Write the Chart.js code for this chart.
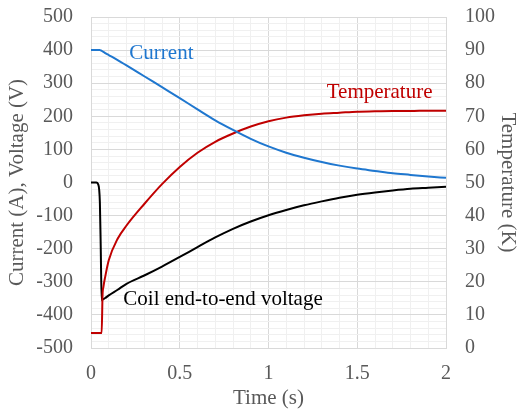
<!DOCTYPE html>
<html><head><meta charset="utf-8">
<script src="https://cdn.jsdelivr.net/npm/chart.js@4"></script>
<style>html,body{margin:0;padding:0;background:#fff}</style>
</head><body>
<canvas id="c" width="518" height="409"></canvas>
<script>
// ---- data ----
const time = [0, 0.03, 0.04, 0.05, 0.055, 0.06, 0.065, 0.07, 0.08, 0.1, 0.15, 0.2, 0.3, 0.4, 0.5, 0.6, 0.7, 0.8, 0.9, 1.0, 1.1, 1.2, 1.3, 1.4, 1.5, 1.6, 1.7, 1.8, 1.9, 2.0];
const currentA = [400, 400, 400, 400, 399, 398, 396, 395, 391, 385, 370, 354, 321, 288, 255, 221, 188, 159, 132, 109, 90, 75, 62, 51, 42, 35, 28, 23, 18, 14];
const voltageV = [0, 0, -5, -60, -200, -356, -354, -352, -349, -341, -324, -306, -281, -254, -225, -195, -166, -140, -118, -99, -83, -69, -57, -46, -37, -30, -24, -19, -16, -13];
const temperatureK = [4.5, 4.5, 4.5, 4.5, 4.5, 4.5, 16, 18.5, 21.5, 26.5, 33, 37, 43.5, 49.5, 54.7, 59, 62.3, 64.8, 66.9, 68.5, 69.6, 70.3, 70.8, 71.1, 71.4, 71.5, 71.6, 71.6, 71.7, 71.7];

const xTickLabels = [0, 0.5, 1, 1.5, 2];
const leftTickLabels = [-500, -400, -300, -200, -100, 0, 100, 200, 300, 400, 500];
const rightTickLabels = [0, 10, 20, 30, 40, 50, 60, 70, 80, 90, 100];
const seriesNames = ['Current', 'Temperature', 'Coil end-to-end voltage'];
const axisTitles = {x: 'Time (s)', y: 'Current (A), Voltage (V)', y1: 'Temperature (K)'};

// ---- styles ----
const FONT = 'Liberation Serif';
const TICK_COLOR = '#595959';
const MAJOR = '#d9d9d9';
const MINOR = '#f0f0f0';
const COLORS = ['#1f77cf', '#c00000', '#000000'];

const pts = (ys) => time.map((t, i) => ({x: t, y: ys[i]}));
const isIn = (v, list) => list.some(l => Math.abs(l - v) < 1e-6);

const labelPlugin = {
  id: 'seriesLabels',
  afterDatasetsDraw(chart) {
    const {ctx, scales} = chart;
    const anchors = [
      {x: 0.216, y: 372},
      {x: 1.328, y: 256},
      {x: 0.182, y: -371}
    ];
    ctx.save();
    ctx.font = '21px "' + FONT + '"';
    ctx.textAlign = 'left';
    ctx.textBaseline = 'alphabetic';
    anchors.forEach((a, i) => {
      ctx.fillStyle = COLORS[i];
      ctx.fillText(seriesNames[i], scales.x.getPixelForValue(a.x), scales.y.getPixelForValue(a.y));
    });
    ctx.restore();
  }
};

const fixVertical = (w) => (s) => { s.width = w; s.paddingTop = 0; s.paddingBottom = 0; };

new Chart(document.getElementById('c'), {
  type: 'line',
  data: {
    datasets: [
      {label: seriesNames[0], data: pts(currentA), borderColor: COLORS[0], yAxisID: 'y'},
      {label: seriesNames[1], data: pts(temperatureK), borderColor: COLORS[1], yAxisID: 'y1'},
      {label: seriesNames[2], data: pts(voltageV), borderColor: COLORS[2], yAxisID: 'y'}
    ]
  },
  options: {
    responsive: false,
    animation: false,
    devicePixelRatio: 1,
    layout: {padding: {top: 17, left: 0, right: 0, bottom: 0}},
    elements: {
      point: {radius: 0},
      line: {borderWidth: 2, fill: false, cubicInterpolationMode: 'monotone'}
    },
    plugins: {legend: {display: false}, tooltip: {enabled: false}},
    scales: {
      x: {
        type: 'linear', min: 0, max: 2,
        afterFit: s => { s.height = 61; s.paddingLeft = 0; s.paddingRight = 0; },
        afterBuildTicks: s => { s.ticks = Array.from({length: 21}, (_, i) => ({value: i / 10})); },
        ticks: {
          autoSkip: false, maxRotation: 0, padding: 14, color: TICK_COLOR,
          font: {family: FONT, size: 20},
          callback: v => isIn(v, xTickLabels) ? String(+v.toFixed(1)) : ''
        },
        grid: {drawTicks: false, color: c => isIn(c.tick.value, xTickLabels) ? MAJOR : MINOR},
        border: {color: MAJOR},
        title: {display: true, text: axisTitles.x, color: TICK_COLOR, font: {family: FONT, size: 21, lineHeight: 1}, padding: 0}
      },
      y: {
        position: 'left', min: -500, max: 500,
        afterFit: fixVertical(91),
        afterBuildTicks: s => { s.ticks = Array.from({length: 51}, (_, i) => ({value: -500 + i * 20})); },
        ticks: {
          autoSkip: false, padding: 18, color: TICK_COLOR,
          font: {family: FONT, size: 20},
          callback: v => isIn(v, leftTickLabels) ? String(v) : ''
        },
        grid: {drawTicks: false, color: c => isIn(c.tick.value, leftTickLabels) ? MAJOR : MINOR},
        border: {color: MAJOR},
        title: {display: true, text: axisTitles.y, color: TICK_COLOR, font: {family: FONT, size: 21, lineHeight: 1}, padding: {top: 7, bottom: 0}}
      },
      y1: {
        position: 'right', min: 0, max: 100,
        afterFit: fixVertical(72),
        afterBuildTicks: s => { s.ticks = rightTickLabels.map(v => ({value: v})); },
        ticks: {
          autoSkip: false, padding: 19, color: TICK_COLOR,
          font: {family: FONT, size: 20},
          callback: v => String(v)
        },
        grid: {drawTicks: false, drawOnChartArea: false},
        border: {color: MAJOR},
        title: {display: true, text: axisTitles.y1, color: TICK_COLOR, font: {family: FONT, size: 21, lineHeight: 1}, padding: 0}
      }
    }
  },
  plugins: [labelPlugin]
});
</script>
</body></html>
